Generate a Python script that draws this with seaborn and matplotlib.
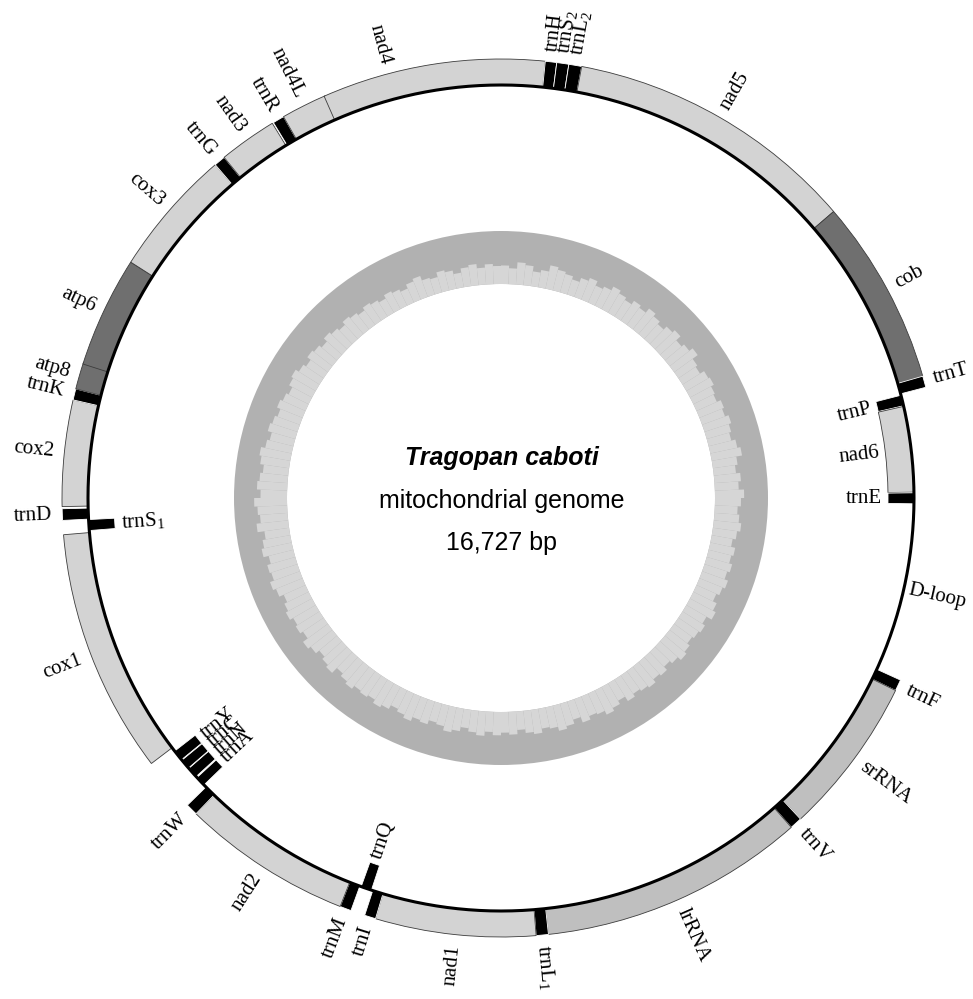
import numpy as np
import matplotlib
matplotlib.use("Agg")
import matplotlib.pyplot as plt
import seaborn as sns

# genome map of the Tragopan caboti mitogenome (positions)
genome_len = 16727

gene_names = ["trnF", "srRNA", "trnV", "lrRNA", "trnL1", "nad1", "trnI", "trnQ", "trnM",
              "nad2", "trnW", "trnA", "trnN", "trnC", "trnY", "cox1", "trnS1", "trnD",
              "cox2", "trnK", "atp8", "atp6", "cox3", "trnG", "nad3", "trnR", "nad4L",
              "nad4", "trnH", "trnS2", "trnL2", "nad5", "cob", "trnT", "trnP", "nad6",
              "trnE", "D-loop"]
gene_start = [1, 71, 1046, 1121, 2756, 2831, 3816, 3894, 3973,
              4043, 5089, 5181, 5255, 5329, 5399, 5497, 7016, 7090,
              7174, 7826, 7895, 8052, 8736, 9521, 9591, 9957, 10028,
              10304, 11677, 11747, 11821, 11900, 13697, 14841, 14920, 14994,
              15556, 15627]
gene_end = [70, 1045, 1120, 2755, 2830, 3815, 3884, 3963, 4042,
            5088, 5162, 5246, 5325, 5394, 5469, 7002, 7086, 7160,
            7825, 7894, 8061, 8735, 9520, 9590, 9948, 10027, 10310,
            11676, 11746, 11820, 11899, 13696, 14840, 14910, 14989, 15551,
            15626, 16727]
# H = drawn outside the circle, L = drawn inside
gene_strand = ["H", "H", "H", "H", "H", "H", "H", "L", "H",
               "H", "H", "L", "L", "L", "L", "H", "L", "H",
               "H", "H", "H", "H", "H", "H", "H", "H", "H",
               "H", "H", "H", "H", "H", "H", "H", "L", "L",
               "L", "none"]
gene_type = ["trna", "rrna", "trna", "rrna", "trna", "prot", "trna", "trna", "trna",
             "prot", "trna", "trna", "trna", "trna", "trna", "prot", "trna", "trna",
             "prot", "trna", "dark", "dark", "prot", "trna", "prot", "trna", "prot",
             "prot", "trna", "trna", "trna", "prot", "dark", "trna", "trna", "prot",
             "trna", "ctrl"]
gene_labels = ["trnF", "srRNA", "trnV", "lrRNA", r"trnL$_\mathrm{1}$", "nad1", "trnI", "trnQ", "trnM",
               "nad2", "trnW", "trnA", "trnN", "trnC", "trnY", "cox1", r"trnS$_\mathrm{1}$", "trnD",
               "cox2", "trnK", "atp8", "atp6", "cox3", "trnG", "nad3", "trnR", "nad4L",
               "nad4", "trnH", r"trnS$_\mathrm{2}$", r"trnL$_\mathrm{2}$", "nad5", "cob", "trnT", "trnP", "nad6",
               "trnE", "D-loop"]

# inner track, % of the band filled light, in 2 degree steps clockwise from the top
ring_pct = [35, 30, 42, 38, 28, 33, 45, 40, 36, 30, 38, 44, 35, 40, 48, 42, 37, 45,
            40, 50, 44, 38, 46, 52, 41, 47, 55, 43, 39, 48, 51, 45, 42, 50, 46, 53,
            48, 44, 52, 58, 47, 42, 50, 45, 55, 49, 43, 47, 52, 46, 40, 48, 44, 50,
            45, 52, 47, 41, 49, 55, 44, 50, 46, 42, 48, 53, 45, 39, 47, 43, 50, 46,
            42, 48, 38, 45, 51, 43, 40, 47, 36, 44, 49, 41, 38, 46, 42, 35, 43, 39,
            44, 38, 46, 41, 35, 43, 48, 40, 37, 45, 42, 50, 44, 39, 47, 52, 45, 49,
            46, 53, 48, 42, 55, 50, 44, 52, 58, 47, 53, 49, 56, 51, 45, 54, 60, 52,
            55, 48, 58, 53, 47, 60, 52, 56, 62, 50, 57, 53, 48, 55, 59, 51, 46, 54,
            50, 45, 52, 47, 42, 49, 53, 46, 40, 48, 44, 38, 46, 41, 36, 43, 39, 34,
            40, 36, 31, 38, 34, 29, 37, 42, 33, 30, 39, 35, 28, 36, 40, 32, 38, 34]

# layout (pixels == radial data units)
origin_deg = 114.5          # angle of position 1, clockwise from top
r_line = 413
block_w = 26
r_ring_in, r_ring_out = 214, 267
colors = {"prot": "#d3d3d3", "dark": "#6f6f6f", "rrna": "#bfbfbf", "trna": "black"}
label_shift = {"nad4": -6.0}

sns.set_style("white")
plt.rcParams["font.family"] = ["Liberation Serif", "DejaVu Serif"]
plt.rcParams["text.color"] = "black"
plt.rcParams["mathtext.fontset"] = "custom"
plt.rcParams["mathtext.rm"] = "Liberation Serif"

W, H = 973, 999
fig = plt.figure(figsize=(W / 100, H / 100), dpi=100)
cx, cy, rmax = 501, 498, 500
ax = fig.add_axes([(cx - rmax) / W, (H - cy - rmax) / H, 2 * rmax / W, 2 * rmax / H],
                  projection="polar")
ax.set_theta_zero_location("N")
ax.set_theta_direction(-1)
ax.set_ylim(0, rmax)
ax.set_axis_off()


def bp_theta(p):
    return np.deg2rad(origin_deg) + 2 * np.pi * p / genome_len


# inner gray track
ax.bar(0, r_ring_out - r_ring_in, width=2 * np.pi, bottom=r_ring_in, color="#b1b1b1", linewidth=0)
step = 2 * np.pi / len(ring_pct)
ring_theta = np.arange(len(ring_pct)) * step
ring_h = np.array(ring_pct) / 100 * (r_ring_out - r_ring_in)
ax.bar(ring_theta, ring_h, width=step, bottom=r_ring_in, align="edge", color="#d6d6d6", linewidth=0)

# gene blocks
for name, s, e, strand, kind in zip(gene_names, gene_start, gene_end, gene_strand, gene_type):
    if kind == "ctrl":
        continue
    t0 = bp_theta(s - 1)
    w = 2 * np.pi * (e - s + 1) / genome_len
    bottom = r_line if strand == "H" else r_line - block_w
    ec = "white" if kind == "trna" else "#3c3c3c"
    ax.bar(t0, block_w, width=w, bottom=bottom, align="edge", color=colors[kind],
           edgecolor=ec, linewidth=0.6, zorder=2)

# backbone circle
circ = np.linspace(0, 2 * np.pi, 721)
ax.plot(circ, np.full_like(circ, r_line), color="black", lw=2.2, zorder=3,
        solid_capstyle="butt", solid_joinstyle="round")

# labels
for name, s, e, strand, lab in zip(gene_names, gene_start, gene_end, gene_strand, gene_labels):
    mid = np.rad2deg(bp_theta((s + e) / 2)) + label_shift.get(name, 0.0)
    t = mid % 360
    if strand == "H":
        r, outward = r_line + block_w + 10, True
    elif strand == "L":
        r, outward = r_line - block_w - 6, False
    else:
        r, outward = r_line + 5, True
    if t < 180:
        rot = 90 - t
        ha = "left" if outward else "right"
    else:
        rot = 270 - t
        ha = "right" if outward else "left"
    ax.text(np.deg2rad(t), r, lab, rotation=rot, rotation_mode="anchor",
            ha=ha, va="center", fontsize=15, color="black", zorder=4)

# centre titles
fig.text(502 / W, 1 - 465 / H, "Tragopan caboti", ha="center", va="baseline",
         family="Liberation Sans", fontsize=18, fontweight="bold", style="italic", color="black")
fig.text(502 / W, 1 - 508 / H, "mitochondrial genome", ha="center", va="baseline",
         family="Liberation Sans", fontsize=18, color="black")
fig.text(502 / W, 1 - 550 / H, "16,727 bp", ha="center", va="baseline",
         family="Liberation Sans", fontsize=18, color="black")

fig.savefig("out.png", dpi=100)
